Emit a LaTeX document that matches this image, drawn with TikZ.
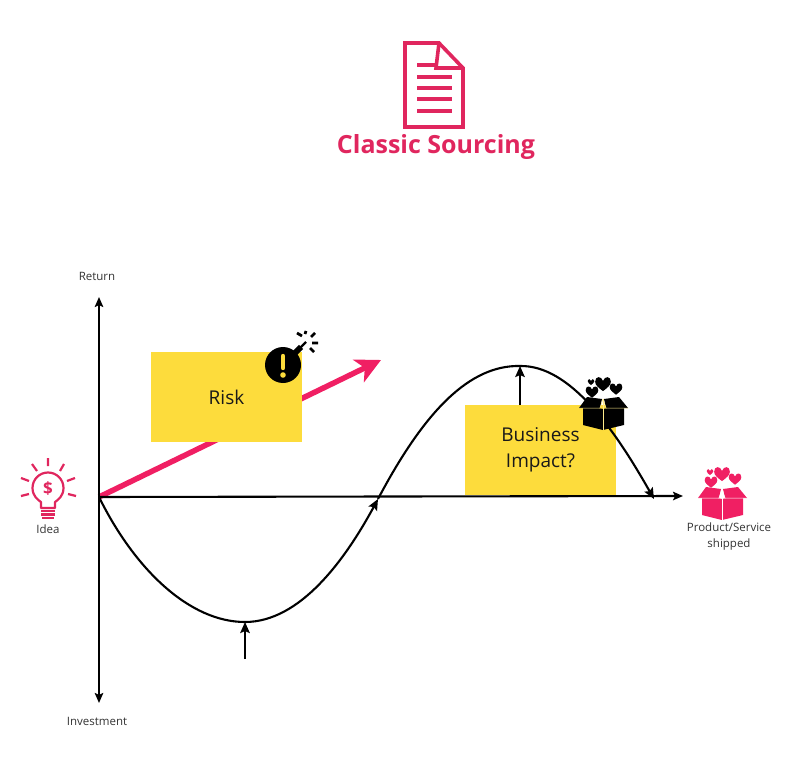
\documentclass[tikz,border=0pt]{standalone}
\usepackage{fontspec}
\setmainfont{Open Sans}
\usepackage{xcolor}
\usetikzlibrary{arrows.meta,positioning,calc}
\definecolor{pinkmain}{HTML}{E0265E}
\definecolor{pinkhot}{HTML}{F01F63}
\definecolor{notey}{HTML}{FDDC3C}
\tikzset{
  note/.style={rectangle, fill=notey, align=center, font=\fontsize{19}{26}\selectfont,
               minimum width=151pt, inner sep=0pt, text=black!90},
  lbl/.style={font=\fontsize{11.5}{16}\selectfont, align=center, inner sep=0pt, text=black!80},
  ttl/.style={font=\fontsize{25}{30}\selectfont\bfseries, text=pinkmain, inner sep=0pt},
  ax/.style={-{Stealth[length=10pt,width=8.5pt,inset=2pt]}, line width=2.1pt},
  bi/.style={{Stealth[length=10pt,width=8.5pt,inset=2pt]}-{Stealth[length=10pt,width=8.5pt,inset=2pt]}, line width=2.1pt},
  crv/.style={line width=2.1pt},
  tip/.style={-{Stealth[length=11pt,width=9.5pt,inset=2pt]}, line width=2.1pt},
  roi/.style={-{Stealth[length=25pt,width=25pt,inset=7pt]}, line width=5.5pt, draw=pinkhot},
  icon/.style={draw=pinkmain, line width=3.6pt, line cap=butt},
}
% heart at x,y with half width r
\newcommand{\heartat}[4]{%
  \fill[#4] (#1,#2+#3*.95) .. controls (#1-#3*.5,#2+#3*.55) and (#1-#3*1.05,#2+#3*.2) .. (#1-#3*1.05,#2-#3*.3)
    .. controls (#1-#3*1.05,#2-#3*1.1) and (#1-#3*.2,#2-#3*1.1) .. (#1,#2-#3*.4)
    .. controls (#1+#3*.2,#2-#3*1.1) and (#1+#3*1.05,#2-#3*1.1) .. (#1+#3*1.05,#2-#3*.3)
    .. controls (#1+#3*1.05,#2+#3*.2) and (#1+#3*.5,#2+#3*.55) .. (#1,#2+#3*.95) -- cycle;}
% open box with hearts, origin at middle of the top
\newcommand{\giftbox}[4]{%
  \begin{scope}[shift={(#1,#2)}]
    \heartat{0}{-13}{7.5}{#3}
    \heartat{13}{-8}{6}{#3}
    \heartat{-11}{-5}{6}{#3}
    \heartat{-12}{-15}{3.2}{#3}
    \fill[#3] (-20,8) -- (0,12) -- (21,8) -- (21,28) -- (0,33) -- (-20,28) -- cycle;
    \fill[#3] (-24,11) -- (-16,0) -- (-1,2) -- (-3,11) -- cycle;
    \fill[#3] (25,11) -- (16,0) -- (1,2) -- (3,11) -- cycle;
    \draw[#4, line width=.7pt] (0,2) -- (0,33);
    \draw[#4, line width=.5pt] (0,2) -- (-3,11) -- (-24,11) (0,2) -- (3,11) -- (25,11);
  \end{scope}}

\begin{document}
\begin{tikzpicture}[x=1pt,y=-1pt]
\useasboundingbox (0,0) rectangle (811,770);
\coordinate (origin) at (99,497);
\coordinate (yTop) at (99,297);
\coordinate (yBot) at (99,703);
\coordinate (xEnd) at (683,496);
\coordinate (roiEnd) at (381,360);
\coordinate (dipBase) at (245,659);
\coordinate (dipTip) at (245,622);
\coordinate (crossTip) at (378,499);
\coordinate (peakBase) at (520,405);
\coordinate (peakTip) at (520,366);
\coordinate (shipTip) at (654,499);
% document icon
\draw[icon, line join=miter] (405,43) -- (439,43) -- (463,68) -- (463,127) -- (405,127) -- cycle;
\draw[icon] (439,43) -- (436,68) -- (463,68);
\draw[icon] (417,65) -- (436,65);
\foreach \yy in {77,88,99,111} {
  \draw[icon] (417,\yy) -- (452,\yy);
}
\node[ttl] (title) at (436,147) {Classic Sourcing};
% axes
\draw[roi] (origin) -- (roiEnd);
\node[note, minimum height=90pt] (risk) at (226.5,397) {Risk};
\node[note, minimum height=90pt] (impact) at (540.5,450) {Business\\Impact?};
\draw[bi] (yBot) -- (yTop);
\draw[ax] (origin) -- (xEnd);
\node[lbl] (ret) at (97,276) {Return};
\node[lbl] (inv) at (97,721) {Investment};
% curve
\draw[crv] (origin) .. controls (135,570) and (190,622) .. (dipTip);
\draw[crv, tip] (dipTip) .. controls (300,622) and (345,560) .. (crossTip);
\draw[crv, tip] (crossTip) .. controls (425,410) and (470,365) .. (peakTip)
  .. controls (570,365) and (615,430) .. (shipTip);
\draw[tip] (dipBase) -- (dipTip);
\draw[tip] (peakBase) -- (peakTip);
% bomb
\fill[black] (283,365) circle (18);
\draw[line width=6pt] (295,353) -- (301,347);
\draw[line width=2.4pt] (300,348) -- (306,342);
\draw[line width=2.8pt] (305,334) -- (306,331) (311,337) -- (315,333) (312,343) -- (318,343) (310,348) -- (314,352) (302,336) -- (297,333);
\draw[notey, line width=4.4pt, line cap=round] (283,356) -- (283,368);
\fill[notey] (283,375) circle (2.8);
% idea icon
\draw[icon, line width=2.2pt, line join=round] (41,508) -- (41,502) .. controls (38,500) and (32.5,496) .. (32.5,488)
  arc[start angle=180, end angle=360, radius=15.5]
  .. controls (63.5,496) and (58,500) .. (55,502) -- (55,508) -- cycle;
\node[font=\fontsize{17}{17}\selectfont\bfseries, text=pinkmain, inner sep=0pt] (dollar) at (48,489) {\$};
\draw[icon, line width=2.2pt] (41,511) -- (55,511) (41,514.5) -- (55,514.5) (42,518) -- (54,518);
\draw[icon, line width=2.2pt] (48,458) -- (48,466) (32,464) -- (37,471) (64,464) -- (60,471)
  (21,478) -- (29,481) (75,478) -- (67,481) (21,496) -- (29,494) (76,496) -- (68,494);
\node[lbl] (idea) at (48,529) {Idea};
% boxes
\giftbox{603}{397}{black}{notey!60!white}
\giftbox{722}{487}{pinkhot}{white}
\node[lbl] (ship) at (729,537) {Product/Service\\shipped};
\end{tikzpicture}
\end{document}
